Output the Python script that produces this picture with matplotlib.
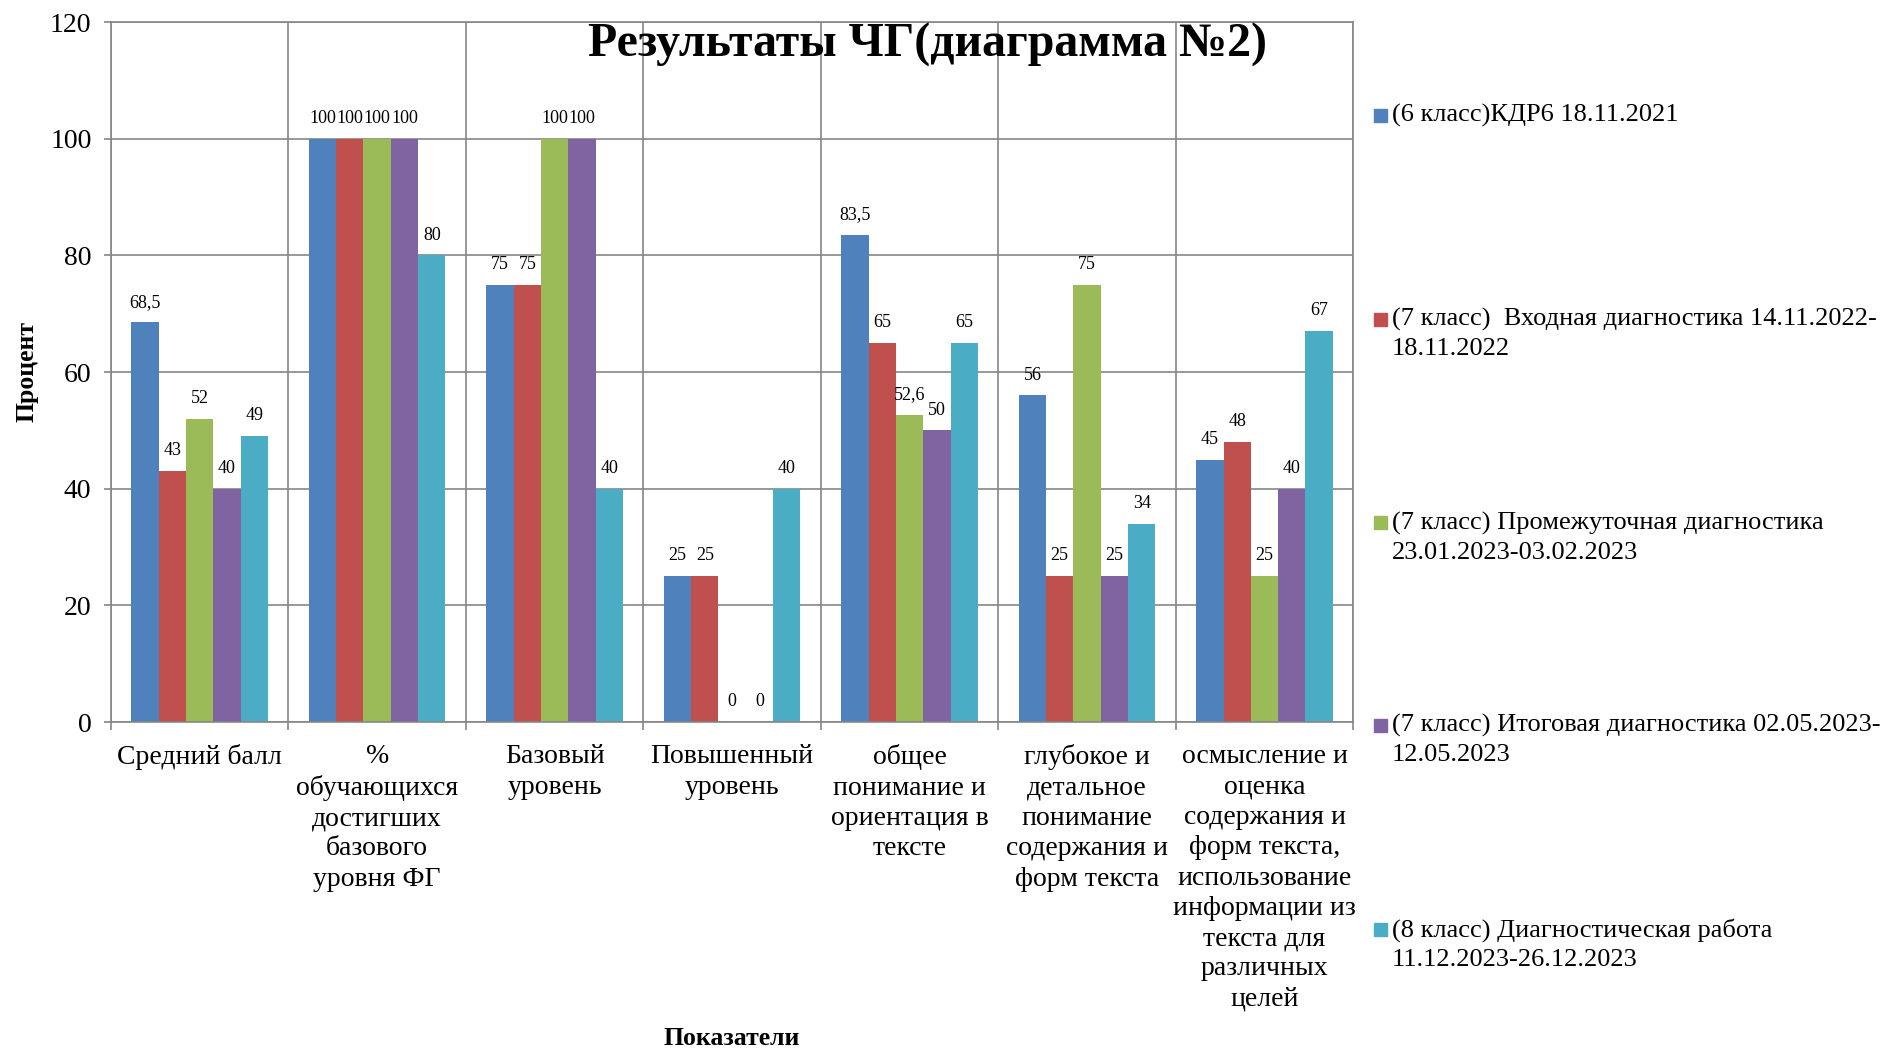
import numpy as np
import matplotlib.pyplot as plt
from matplotlib.patches import Rectangle

plt.rcParams['font.family'] = ['Liberation Serif', 'DejaVu Serif']

categories = [
    "Средний балл",
    "%\nобучающихся\nдостигших\nбазового\nуровня ФГ",
    "Базовый\nуровень",
    "Повышенный\nуровень",
    "общее\nпонимание и\nориентация в\nтексте",
    "глубокое и\nдетальное\nпонимание\nсодержания и\nформ текста",
    "осмысление и\nоценка\nсодержания и\nформ текста,\nиспользование\nинформации из\nтекста для\nразличных\nцелей",
]
series_names = [
    "(6 класс)КДР6 18.11.2021",
    "(7 класс)  Входная диагностика 14.11.2022-\n18.11.2022",
    "(7 класс) Промежуточная диагностика\n23.01.2023-03.02.2023",
    "(7 класс) Итоговая диагностика 02.05.2023-\n12.05.2023",
    "(8 класс) Диагностическая работа\n11.12.2023-26.12.2023",
]
kdr6_2021 = [68.5, 100, 75, 25, 83.5, 56, 45]
vhod_2022 = [43, 100, 75, 25, 65, 25, 48]
promezh_2023 = [52, 100, 100, 0, 52.6, 75, 25]
itog_2023 = [40, 100, 100, 0, 50, 25, 40]
diag_2023 = [49, 80, 40, 40, 65, 34, 67]
series = [kdr6_2021, vhod_2022, promezh_2023, itog_2023, diag_2023]
colors = ["#4F81BD", "#C0504D", "#9BBB59", "#8064A2", "#4BACC6"]

fig = plt.figure(figsize=(18.9, 10.51), dpi=100)
ax = fig.add_axes([0.0587, 0.313, 0.6573, 0.666])

x = np.arange(len(categories))
bw = 1 / 6.5
for i, (vals, c) in enumerate(zip(series, colors)):
    pos = x - 2.5 * bw + bw / 2 + i * bw + 0.5
    bars = ax.bar(pos, vals, width=bw, color=c, zorder=2)
    for b, v in zip(bars, vals):
        txt = ('%g' % v).replace('.', ',')
        ax.annotate(txt, (b.get_x() + b.get_width() / 2, v), xytext=(0, 8.5),
                    textcoords='offset points', ha='center', va='bottom',
                    fontsize=13)

ax.set_xlim(0, len(categories))
ax.set_ylim(0, 120)
ax.set_yticks(np.arange(0, 121, 20))
ax.set_xticks(x + 0.5)
ax.set_xticklabels(categories, fontsize=20, linespacing=1.28)
ax.set_xticks(np.arange(0, len(categories) + 1), minor=True)
ax.tick_params(axis='x', which='major', length=0, pad=16)
ax.tick_params(axis='x', which='minor', length=6, color='#868686', width=1.2)
ax.tick_params(axis='y', labelsize=20, length=5, color='#868686', width=1.2, pad=9)

ax.set_axisbelow(True)
ax.grid(axis='y', which='major', color='#868686', linewidth=1.2)
ax.grid(axis='x', which='minor', color='#868686', linewidth=1.2)
for s in ax.spines.values():
    s.set_color('#868686')
    s.set_linewidth(1.2)

fig.text(0.491, 0.957, "Результаты ЧГ(диаграмма №2)", ha='center', va='center',
         fontsize=34.5, fontweight='bold')
fig.text(0.0143, 0.647, "Процент", rotation=90, ha='center', va='center',
         fontsize=18.5, fontweight='bold')
fig.text(0.387, 0.012, "Показатели", ha='center', va='center',
         fontsize=18.5, fontweight='bold')

# legend, one entry every ~204 px, swatch next to the first line
first_line_y = [115, 319, 523, 725, 929]
for name, c, yy in zip(series_names, colors, first_line_y):
    fy = 1 - yy / 1051
    fig.add_artist(Rectangle((1374 / 1890, fy - 6.5 / 1051), 13 / 1890, 13 / 1051,
                             transform=fig.transFigure, color=c))
    fig.text(1392 / 1890, fy + 11 / 1051, name, ha='left', va='top',
             fontsize=19, linespacing=1.42)

fig.savefig('out.png', dpi=100)
